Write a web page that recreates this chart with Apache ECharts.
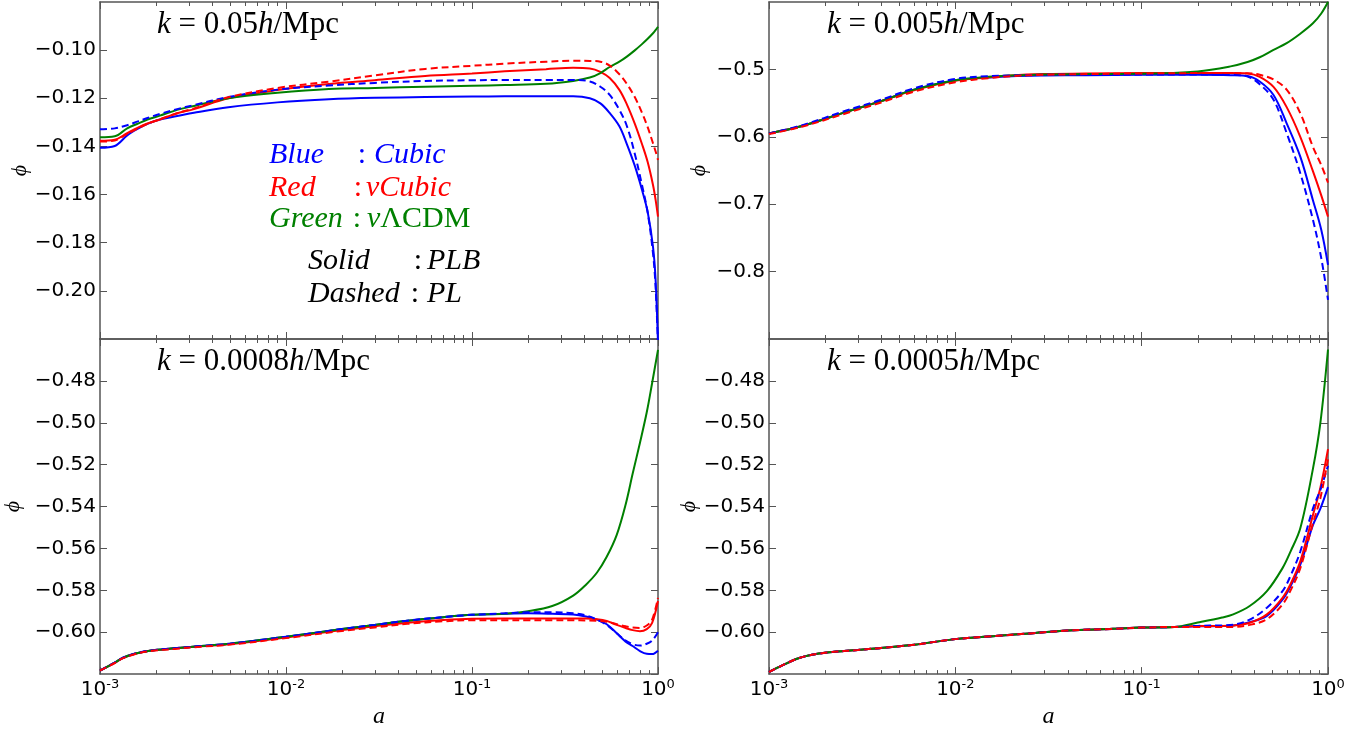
<!DOCTYPE html>
<html><head><meta charset="utf-8">
<script src="https://cdn.jsdelivr.net/npm/echarts@6/dist/echarts.min.js"></script>
<style>html,body{margin:0;padding:0;background:#fff}#c{width:1372px;height:730px}</style>
</head><body><div id="c"></div>
<script>
// ---------------- data ----------------
const TL_X = [0.001, 0.0012, 0.0014, 0.0016, 0.0018, 0.0021, 0.0026, 0.0032, 0.0049, 0.009, 0.017, 0.03, 0.056, 0.1, 0.15, 0.25, 0.35, 0.43, 0.49, 0.55, 0.62, 0.68, 0.75, 0.82, 0.88, 0.94, 0.97, 1.0];
const TL_BLUE_SOLID  = [-0.1405, -0.1398, -0.1354, -0.1326, -0.1306, -0.1288, -0.1274, -0.1260, -0.1237, -0.1217, -0.1204, -0.1198, -0.1195, -0.1193, -0.1192, -0.1192, -0.1192, -0.1200, -0.1221, -0.1261, -0.1316, -0.1390, -0.1480, -0.1580, -0.1672, -0.1817, -0.1950, -0.2220];
const TL_BLUE_DASHED = [-0.1329, -0.1325, -0.1312, -0.1296, -0.1282, -0.1265, -0.1245, -0.1228, -0.1195, -0.1164, -0.1147, -0.1136, -0.1128, -0.1125, -0.1124, -0.1124, -0.1124, -0.1130, -0.1152, -0.1186, -0.1248, -0.1315, -0.1430, -0.1560, -0.1675, -0.1844, -0.1980, -0.2220];
const TL_RED_SOLID   = [-0.1376, -0.1372, -0.1345, -0.1322, -0.1305, -0.1288, -0.1262, -0.1245, -0.1200, -0.1166, -0.1141, -0.1125, -0.1107, -0.1097, -0.1088, -0.1079, -0.1073, -0.1076, -0.1090, -0.1116, -0.1165, -0.1225, -0.1305, -0.1390, -0.1465, -0.1560, -0.1620, -0.1692];
const TL_RED_DASHED  = [-0.1380, -0.1375, -0.1348, -0.1325, -0.1306, -0.1287, -0.1262, -0.1242, -0.1196, -0.1157, -0.1131, -0.1105, -0.1078, -0.1065, -0.1056, -0.1048, -0.1044, -0.1045, -0.1048, -0.1064, -0.1100, -0.1140, -0.1195, -0.1260, -0.1320, -0.1387, -0.1420, -0.1456];
const TL_GREEN       = [-0.1362, -0.1358, -0.1325, -0.1305, -0.1288, -0.1272, -0.1248, -0.1232, -0.1200, -0.1177, -0.1161, -0.1157, -0.1152, -0.1148, -0.1145, -0.1140, -0.1128, -0.1114, -0.1095, -0.1070, -0.1048, -0.1027, -0.1001, -0.0975, -0.0953, -0.0930, -0.0917, -0.0903];

const TR_X = [0.001, 0.0015, 0.0026, 0.004, 0.006, 0.01, 0.015, 0.02, 0.03, 0.05, 0.1, 0.2, 0.3, 0.37, 0.43, 0.51, 0.6, 0.71, 0.83, 0.92, 1.0];
const TR_BLUE_SOLID  = [-0.595, -0.584, -0.563, -0.547, -0.530, -0.516, -0.512, -0.510, -0.509, -0.5085, -0.508, -0.508, -0.5085, -0.5098, -0.518, -0.538, -0.580, -0.6295, -0.694, -0.738, -0.790];
const TR_BLUE_DASHED = [-0.595, -0.583, -0.561, -0.545, -0.528, -0.514, -0.510, -0.509, -0.508, -0.5075, -0.5075, -0.5075, -0.508, -0.5105, -0.522, -0.545, -0.5945, -0.654, -0.723, -0.780, -0.842];
const TR_RED_SOLID   = [-0.595, -0.584, -0.563, -0.547, -0.531, -0.517, -0.512, -0.509, -0.507, -0.506, -0.5055, -0.5055, -0.5055, -0.5062, -0.511, -0.526, -0.556, -0.600, -0.651, -0.687, -0.7185];
const TR_RED_DASHED  = [-0.596, -0.585, -0.565, -0.549, -0.533, -0.519, -0.513, -0.510, -0.508, -0.507, -0.506, -0.5055, -0.5055, -0.5058, -0.508, -0.515, -0.530, -0.565, -0.615, -0.642, -0.668];
const TR_GREEN       = [-0.595, -0.584, -0.563, -0.547, -0.530, -0.516, -0.511, -0.509, -0.5075, -0.507, -0.5065, -0.503, -0.4955, -0.489, -0.482, -0.471, -0.461, -0.447, -0.4316, -0.417, -0.400];

const BL_X = [0.001, 0.0012, 0.00133, 0.00155, 0.00185, 0.0025, 0.0035, 0.005, 0.01, 0.02, 0.03, 0.045, 0.07, 0.1, 0.15, 0.2, 0.27, 0.35, 0.41, 0.47, 0.53, 0.6, 0.67, 0.73, 0.8, 0.87, 0.93, 1.0];
const BL_BLUE_SOLID  = [-0.6183, -0.6145, -0.6122, -0.6102, -0.6088, -0.6077, -0.6066, -0.6055, -0.6022, -0.5985, -0.5965, -0.5945, -0.5928, -0.5917, -0.5912, -0.5910, -0.5912, -0.5915, -0.5925, -0.5940, -0.5962, -0.6005, -0.6045, -0.6066, -0.6090, -0.6103, -0.6104, -0.6088];
const BL_BLUE_DASHED = [-0.6183, -0.6145, -0.6122, -0.6102, -0.6088, -0.6077, -0.6066, -0.6055, -0.6022, -0.5985, -0.5965, -0.5945, -0.5928, -0.5917, -0.5910, -0.5905, -0.5905, -0.5910, -0.5920, -0.5940, -0.5966, -0.6005, -0.6040, -0.6057, -0.6064, -0.6055, -0.6040, -0.6000];
const BL_RED_SOLID   = [-0.6183, -0.6146, -0.6123, -0.6103, -0.6089, -0.6078, -0.6067, -0.6057, -0.6025, -0.5990, -0.5972, -0.5955, -0.5942, -0.5936, -0.5935, -0.5935, -0.5935, -0.5935, -0.5935, -0.5938, -0.5946, -0.5965, -0.5980, -0.5990, -0.5995, -0.5985, -0.5955, -0.5851];
const BL_RED_DASHED  = [-0.6183, -0.6147, -0.6124, -0.6104, -0.6090, -0.6080, -0.6069, -0.6059, -0.6028, -0.5994, -0.5977, -0.5960, -0.5948, -0.5943, -0.5943, -0.5943, -0.5943, -0.5943, -0.5944, -0.5945, -0.5950, -0.5962, -0.5972, -0.5978, -0.5980, -0.5968, -0.5940, -0.5836];
const BL_GREEN       = [-0.6183, -0.6145, -0.6122, -0.6102, -0.6088, -0.6077, -0.6066, -0.6055, -0.6022, -0.5985, -0.5965, -0.5945, -0.5928, -0.5917, -0.5912, -0.5900, -0.5875, -0.5825, -0.5773, -0.5715, -0.5640, -0.5535, -0.5390, -0.5245, -0.5095, -0.4950, -0.4810, -0.4652];

const BR_X = [0.001, 0.0012, 0.0014, 0.00165, 0.0021, 0.003, 0.0039, 0.006, 0.01, 0.017, 0.025, 0.04, 0.07, 0.1, 0.15, 0.2, 0.27, 0.31, 0.38, 0.47, 0.57, 0.63, 0.71, 0.83, 0.91, 1.0];
const BR_BLUE_SOLID  = [-0.619, -0.6155, -0.6128, -0.6110, -0.6096, -0.6085, -0.6076, -0.6060, -0.6033, -0.6017, -0.6006, -0.5992, -0.5984, -0.5978, -0.5975, -0.5972, -0.5970, -0.5968, -0.5952, -0.5922, -0.5845, -0.5780, -0.5678, -0.5489, -0.5410, -0.5307];
const BR_BLUE_DASHED = [-0.619, -0.6155, -0.6128, -0.6110, -0.6096, -0.6085, -0.6076, -0.6060, -0.6033, -0.6017, -0.6006, -0.5992, -0.5984, -0.5978, -0.5975, -0.5970, -0.5967, -0.5964, -0.5940, -0.5883, -0.5804, -0.5730, -0.5615, -0.5410, -0.5320, -0.5205];
const BR_RED_SOLID   = [-0.619, -0.6155, -0.6128, -0.6110, -0.6096, -0.6085, -0.6076, -0.6060, -0.6033, -0.6017, -0.6006, -0.5992, -0.5984, -0.5978, -0.5975, -0.5970, -0.5970, -0.5968, -0.5955, -0.5915, -0.5836, -0.5770, -0.5662, -0.5441, -0.5310, -0.5126];
const BR_RED_DASHED  = [-0.619, -0.6155, -0.6128, -0.6110, -0.6096, -0.6085, -0.6076, -0.6060, -0.6033, -0.6017, -0.6006, -0.5992, -0.5984, -0.5978, -0.5975, -0.5975, -0.5975, -0.5975, -0.5965, -0.5938, -0.5867, -0.5800, -0.5694, -0.5480, -0.5360, -0.5173];
const BR_GREEN       = [-0.619, -0.6155, -0.6128, -0.6110, -0.6096, -0.6085, -0.6076, -0.6060, -0.6033, -0.6017, -0.6006, -0.5992, -0.5984, -0.5978, -0.5975, -0.5954, -0.5930, -0.5915, -0.5875, -0.5804, -0.5694, -0.5614, -0.5504, -0.5220, -0.5000, -0.4650];

const PANEL_TITLES = ['0.05', '0.005', '0.0008', '0.0005'];
const Y_MIN = [-0.22, -0.9, -0.62, -0.62];
const Y_MAX = [-0.08, -0.4, -0.46, -0.46];
const Y_STEP = [0.02, 0.1, 0.02, 0.02];
const Y_DECIMALS = [2, 1, 2, 2];
const X_MIN = 0.001, X_MAX = 1;
const MINOR_TICKS = [0.002, 0.003, 0.004, 0.005, 0.006, 0.007, 0.008, 0.009,
                     0.02, 0.03, 0.04, 0.05, 0.06, 0.07, 0.08, 0.09,
                     0.2, 0.3, 0.4, 0.5, 0.6, 0.7, 0.8, 0.9];

const PANEL_X = [TL_X, TR_X, BL_X, BR_X];
const PANEL_Y = [
  [TL_BLUE_SOLID, TL_RED_SOLID, TL_GREEN, TL_BLUE_DASHED, TL_RED_DASHED],
  [TR_BLUE_SOLID, TR_RED_SOLID, TR_GREEN, TR_BLUE_DASHED, TR_RED_DASHED],
  [BL_BLUE_SOLID, BL_RED_SOLID, BL_GREEN, BL_BLUE_DASHED, BL_RED_DASHED],
  [BR_BLUE_SOLID, BR_RED_SOLID, BR_GREEN, BR_BLUE_DASHED, BR_RED_DASHED]
];

// ---------------- layout / style ----------------
const GRIDS = [
  {left: 100, top: 2, width: 558, height: 337},
  {left: 769, top: 2, width: 559, height: 337},
  {left: 100, top: 339, width: 558, height: 338},
  {left: 769, top: 339, width: 559, height: 338}
];
const NAME_GAP = [65, 59, 76, 69];
const LINE_STYLES = [
  {color: '#0000ff', type: 'solid'},
  {color: '#ff0000', type: 'solid'},
  {color: '#008000', type: 'solid'},
  {color: '#0000ff', type: [7, 4]},
  {color: '#ff0000', type: [7, 4]}
];
const FRAME = '#555555';
const SANS = 'DejaVu Sans';
const SERIF = 'Liberation Serif';

const xAxes = [], yAxes = [], series = [];
GRIDS.forEach((g, i) => {
  const bottomRow = i >= 2;
  const common = {
    gridIndex: i, type: 'log', logBase: 10, min: X_MIN, max: X_MAX,
    axisLine: {show: true, onZero: false, lineStyle: {color: FRAME, width: 1.5}},
    axisTick: {show: true, inside: true, length: 7, lineStyle: {color: FRAME, width: 1}},
    splitLine: {show: false}
  };
  xAxes.push(Object.assign({}, common, {
    position: 'bottom',
    name: bottomRow ? 'a' : '',
    nameLocation: 'middle', nameGap: 30,
    nameTextStyle: {fontFamily: SERIF, fontStyle: 'italic', fontSize: 24, color: '#000'},
    axisLabel: {
      show: bottomRow, margin: 4,
      formatter: v => '{b|10}{s|' + Math.round(Math.log10(v)) + '}',
      rich: {
        b: {fontFamily: SANS, fontSize: 20, color: '#000', lineHeight: 22, verticalAlign: 'bottom'},
        s: {fontFamily: SANS, fontSize: 13, color: '#000', lineHeight: 14, padding: [0, 0, 13, 0], verticalAlign: 'top'}
      }
    }
  }));
  xAxes.push(Object.assign({}, common, {position: 'top', axisLabel: {show: false}}));
  const ycommon = {
    gridIndex: i, type: 'value', min: Y_MIN[i], max: Y_MAX[i], interval: Y_STEP[i],
    axisLine: {show: true, onZero: false, lineStyle: {color: FRAME, width: 1.5}},
    axisTick: {show: true, inside: true, length: 7, lineStyle: {color: FRAME, width: 1}},
    splitLine: {show: false}
  };
  yAxes.push(Object.assign({}, ycommon, {
    position: 'left',
    name: 'ϕ', nameLocation: 'middle', nameGap: NAME_GAP[i], nameRotate: 90,
    nameTextStyle: {fontFamily: SERIF, fontStyle: 'italic', fontSize: 22, color: '#000'},
    axisLabel: {
      show: true, margin: 4, showMinLabel: false, showMaxLabel: false,
      fontFamily: SANS, fontSize: 20, color: '#000',
      formatter: v => v.toFixed(Y_DECIMALS[i]).replace('-', '\u2212')
    }
  }));
  yAxes.push(Object.assign({}, ycommon, {position: 'right', axisLabel: {show: false}}));

  PANEL_Y[i].forEach((ys, k) => {
    series.push({
      type: 'line', xAxisIndex: 2 * i, yAxisIndex: 2 * i,
      data: PANEL_X[i].map((x, j) => [x, ys[j]]),
      showSymbol: false, symbol: 'none', smooth: 0.35,
      lineStyle: {color: LINE_STYLES[k].color, type: LINE_STYLES[k].type, width: 2},
      silent: true, z: 2 + k
    });
  });
  const yMid = (Y_MIN[i] + Y_MAX[i]) / 2;
  series.push({
    type: 'custom', xAxisIndex: 2 * i, yAxisIndex: 2 * i, silent: true, clip: false,
    data: MINOR_TICKS.map(a => [a, yMid]),
    renderItem: (params, api) => {
      const p = api.coord([api.value(0), api.value(1)]);
      const cs = params.coordSys;
      const x = Math.round(p[0]) + 0.5;
      const b = cs.y + cs.height;
      return {type: 'group', children: [
        {type: 'line', shape: {x1: x, y1: b, x2: x, y2: b - 4}, style: {stroke: FRAME, lineWidth: 1}},
        {type: 'line', shape: {x1: x, y1: cs.y, x2: x, y2: cs.y + 4}, style: {stroke: FRAME, lineWidth: 1}}
      ]};
    }
  });
});

// ---------------- annotations ----------------
function rs(color, style, size) {
  return {fontFamily: SERIF, fontStyle: style, fontSize: size, fill: color};
}
const TITLE_POS = [[157, 25], [827, 25], [157, 362], [827, 362]];
const graphics = PANEL_TITLES.map((t, i) => ({
  type: 'text', x: TITLE_POS[i][0], y: TITLE_POS[i][1], silent: true,
  style: {
    text: '{i|k}{n| = ' + t + '}{i|h}{n|/Mpc}',
    verticalAlign: 'middle', align: 'left',
    rich: {i: rs('#000', 'italic', 31), n: rs('#000', 'normal', 31)}
  }
}));
const LEG = 30;
function leg(x, y, text, color, align, style) {
  return {
    type: 'text', x: x, y: y, silent: true,
    style: {
      text: text, align: align || 'left', verticalAlign: 'middle',
      fontFamily: SERIF, fontStyle: style || 'italic', fontSize: LEG, fill: color
    }
  };
}
graphics.push(
  leg(269, 155, 'Blue', '#0000ff'),
  leg(362, 155, ':', '#0000ff', 'center', 'normal'),
  leg(374, 155, 'Cubic', '#0000ff'),
  leg(269, 188, 'Red', '#ff0000'),
  leg(358, 188, ':', '#ff0000', 'center', 'normal'),
  leg(366, 188, 'νCubic', '#ff0000'),
  leg(269, 219, 'Green', '#008000'),
  leg(357, 219, ':', '#008000', 'center', 'normal'),
  {type: 'text', x: 367, y: 219, silent: true, style: {
    text: '{a|ν}{b|ΛCDM}', verticalAlign: 'middle', align: 'left',
    rich: {a: rs('#008000', 'italic', LEG), b: rs('#008000', 'normal', LEG)}}},
  leg(308, 261, 'Solid', '#000'),
  leg(418, 261, ':', '#000', 'center', 'normal'),
  leg(427, 261, 'PLB', '#000'),
  leg(308, 294, 'Dashed', '#000'),
  leg(415, 294, ':', '#000', 'center', 'normal'),
  leg(427, 294, 'PL', '#000')
);

const chart = echarts.init(document.getElementById('c'), null, {renderer: 'canvas'});
chart.setOption({
  animation: false,
  backgroundColor: '#ffffff',
  grid: GRIDS,
  xAxis: xAxes,
  yAxis: yAxes,
  series: series,
  graphic: graphics
});
</script>
</body></html>
